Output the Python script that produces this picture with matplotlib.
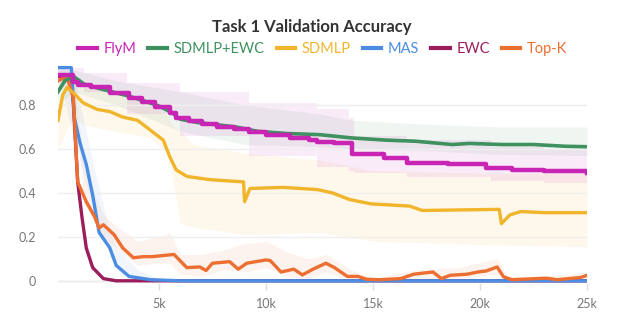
import matplotlib.pyplot as plt
from matplotlib.ticker import FuncFormatter

plt.rcParams['font.family'] = ['Lato', 'DejaVu Sans']

# steps in thousands
flym_x = [0.28, 1.0, 1.2, 1.8, 2.7, 3.6, 4.2, 4.8, 5.5, 5.8, 6.4, 7.0, 7.7, 8.5, 9.2, 10.0, 11.1,
          12.0, 12.4, 13.2, 14.0, 15.5, 16.6, 18.5, 20.3, 21.5, 23.0, 25.0]
flym_y = [0.935, 0.905, 0.89, 0.88, 0.855, 0.83, 0.815, 0.79, 0.765, 0.74, 0.725, 0.715, 0.70, 0.69,
          0.675, 0.665, 0.65, 0.64, 0.63, 0.625, 0.575, 0.56, 0.535, 0.53, 0.515, 0.505, 0.50, 0.49]

ewc_sd_x = [0.28, 0.6, 1.0, 1.5, 2.2, 3.0, 3.6, 4.4, 5.0, 5.6, 6.0, 6.8, 7.7, 8.6, 9.6, 11.0, 12.5,
            14.0, 15.6, 17.0, 18.7, 19.5, 21.0, 22.5, 24.0, 25.0]
ewc_sd_y = [0.86, 0.91, 0.93, 0.895, 0.875, 0.855, 0.84, 0.815, 0.795, 0.765, 0.735, 0.72, 0.71, 0.70,
            0.68, 0.67, 0.665, 0.65, 0.64, 0.635, 0.62, 0.625, 0.62, 0.62, 0.612, 0.61]

sdmlp_x = [0.28, 0.5, 0.7, 1.0, 1.45, 2.1, 2.7, 3.3, 4.0, 4.6, 5.2, 5.5, 5.8, 6.3, 7.4, 8.95, 9.0,
           9.25, 10.8, 12.4, 13.1, 13.9, 14.9, 16.7, 17.3, 20.9, 21.0, 21.4, 21.9, 23.0, 25.0]
sdmlp_y = [0.73, 0.845, 0.88, 0.855, 0.81, 0.78, 0.77, 0.745, 0.73, 0.685, 0.64, 0.565, 0.505, 0.475,
           0.46, 0.45, 0.36, 0.42, 0.425, 0.415, 0.40, 0.37, 0.35, 0.34, 0.32, 0.325, 0.26, 0.30,
           0.315, 0.31, 0.31]

mas_x = [0.28, 0.9, 1.05, 1.3, 1.6, 1.9, 2.2, 2.7, 3.0, 3.6, 4.6, 6.0, 25.0]
mas_y = [0.97, 0.97, 0.74, 0.63, 0.53, 0.39, 0.22, 0.15, 0.07, 0.02, 0.005, 0.0, 0.0]

ewc_x = [0.28, 0.9, 1.0, 1.2, 1.4, 1.6, 1.9, 2.4, 3.0, 25.0]
ewc_y = [0.93, 0.93, 0.80, 0.45, 0.29, 0.15, 0.06, 0.01, 0.0, 0.0]

topk_x = [0.28, 0.7, 1.0, 1.2, 1.6, 2.0, 2.2, 2.4, 2.9, 3.3, 3.8, 4.3, 4.7, 5.2, 5.7, 6.3, 6.9, 7.2,
          7.5, 8.3, 8.7, 9.1, 10.0, 10.2, 10.7, 11.3, 11.7, 12.2, 12.8, 13.2, 13.8, 14.3, 14.7, 15.3,
          16.3, 16.9, 17.8, 18.2, 18.6, 19.4, 19.9, 20.3, 20.8, 21.1, 21.5, 23.1, 23.6, 24.7, 25.0]
topk_y = [0.91, 0.93, 0.83, 0.45, 0.36, 0.29, 0.24, 0.255, 0.21, 0.15, 0.105, 0.11, 0.11, 0.115, 0.12,
          0.06, 0.063, 0.047, 0.08, 0.087, 0.053, 0.08, 0.095, 0.092, 0.04, 0.053, 0.027, 0.053, 0.08,
          0.06, 0.02, 0.02, 0.007, 0.005, 0.01, 0.03, 0.04, 0.01, 0.025, 0.03, 0.04, 0.045, 0.063,
          0.018, 0.005, 0.012, 0.005, 0.015, 0.025]

# min/max bands
flym_bx = [0.28, 1.5, 3.5, 6.0, 9.2, 12.4, 13.9, 14.1, 16.6, 20.5, 23.0, 25.0]
flym_hi = [0.97, 0.945, 0.90, 0.86, 0.81, 0.78, 0.74, 0.66, 0.64, 0.61, 0.60, 0.60]
flym_lo = [0.90, 0.86, 0.76, 0.66, 0.57, 0.52, 0.50, 0.49, 0.47, 0.455, 0.445, 0.445]

ewc_sd_bx = [0.28, 1.0, 3.0, 6.0, 9.0, 12.5, 14.0, 18.0, 21.0, 25.0]
ewc_sd_hi = [0.96, 0.96, 0.91, 0.86, 0.80, 0.76, 0.73, 0.71, 0.70, 0.70]
ewc_sd_lo = [0.80, 0.86, 0.80, 0.68, 0.62, 0.61, 0.60, 0.59, 0.575, 0.57]

sdmlp_bx = [0.28, 1.0, 1.45, 3.0, 4.6, 5.4, 5.7, 6.0, 6.6, 9.0, 12.5, 15.0, 20.0, 25.0]
sdmlp_hi = [0.80, 0.90, 0.88, 0.85, 0.80, 0.75, 0.70, 0.68, 0.62, 0.58, 0.55, 0.50, 0.49, 0.49]
sdmlp_lo = [0.60, 0.75, 0.71, 0.68, 0.65, 0.58, 0.43, 0.26, 0.245, 0.21, 0.22, 0.18, 0.165, 0.155]

mas_bx = [0.28, 1.0, 1.5, 2.0, 2.5, 3.0, 4.0, 5.0, 25.0]
mas_hi = [0.98, 0.95, 0.72, 0.50, 0.30, 0.15, 0.05, 0.01, 0.005]
mas_lo = [0.95, 0.65, 0.48, 0.30, 0.17, 0.06, 0.0, 0.0, 0.0]

topk_bx = [0.28, 1.0, 1.5, 2.4, 3.0, 4.0, 5.0, 5.5, 6.0, 7.0, 8.0, 9.0, 10.0, 11.0, 12.0, 12.8,
           14.0, 15.0, 17.0, 19.0, 20.8, 21.3, 23.0, 25.0]
topk_hi = [0.93, 0.95, 0.50, 0.30, 0.25, 0.18, 0.20, 0.22, 0.12, 0.12, 0.14, 0.17, 0.18, 0.13, 0.10,
           0.12, 0.05, 0.01, 0.05, 0.06, 0.10, 0.02, 0.02, 0.04]
topk_lo = [0.88, 0.90, 0.35, 0.20, 0.15, 0.07, 0.08, 0.08, 0.03, 0.02, 0.05, 0.04, 0.06, 0.02, 0.01,
           0.04, 0.0, 0.0, 0.01, 0.01, 0.03, 0.0, 0.0, 0.01]

c_flym = '#c925b4'
c_ewc_sd = '#3f9160'
c_sdmlp = '#f1b52c'
c_mas = '#4a8de2'
c_ewc = '#9b1d5c'
c_topk = '#ec6e31'

fig = plt.figure(figsize=(6.23, 3.27), dpi=100)
ax = fig.add_axes([58 / 623, 1 - 283 / 327, (587 - 58) / 623, (283 - 61) / 327])

k = lambda xs: [v * 1000 for v in xs]

ax.fill_between(k(sdmlp_bx), sdmlp_lo, sdmlp_hi, color=c_sdmlp, alpha=0.09, lw=0)
ax.fill_between(k(ewc_sd_bx), ewc_sd_lo, ewc_sd_hi, color=c_ewc_sd, alpha=0.08, lw=0)
ax.fill_between(k(flym_bx), flym_lo, flym_hi, color=c_flym, alpha=0.09, lw=0, step='post')
ax.fill_between(k(mas_bx), mas_lo, mas_hi, color=c_mas, alpha=0.08, lw=0)
ax.fill_between(k(topk_bx), topk_lo, topk_hi, color=c_topk, alpha=0.08, lw=0)

ax.plot(k(ewc_x), ewc_y, color=c_ewc, lw=2.4, label='EWC', zorder=3)
ax.plot(k(mas_x), mas_y, color=c_mas, lw=2.4, label='MAS', zorder=3)
ax.plot(k(topk_x), topk_y, color=c_topk, lw=2.4, label='Top-K', zorder=4)
ax.plot(k(sdmlp_x), sdmlp_y, color=c_sdmlp, lw=2.4, label='SDMLP', zorder=4)
ax.plot(k(ewc_sd_x), ewc_sd_y, color=c_ewc_sd, lw=2.6, label='SDMLP+EWC', zorder=5)
ax.plot(k(flym_x), flym_y, color=c_flym, lw=3.2, label='FlyM', zorder=6, drawstyle='steps-post')

ax.set_xlim(280, 25000)
ax.set_ylim(-0.01, 1.0)
ax.set_yticks([0, 0.2, 0.4, 0.6, 0.8])
ax.set_yticklabels(['0', '0.2', '0.4', '0.6', '0.8'])
ax.set_xticks([5000, 10000, 15000, 20000, 25000])
ax.xaxis.set_major_formatter(FuncFormatter(lambda v, p: '%dk' % (v / 1000)))
ax.grid(axis='y', color='#eeeeee', lw=1)
ax.axhline(0, color='#d5d5d5', lw=1, zorder=1)
for s in ax.spines.values():
    s.set_visible(False)
ax.tick_params(axis='y', length=0, pad=16, labelsize=9, labelcolor='#777777')
ax.tick_params(axis='x', length=5, width=1, color='#dddddd', pad=6, labelsize=9, labelcolor='#777777')

fig.text(0.5, 1 - 27 / 327, 'Task 1 Validation Accuracy', ha='center', va='center',
         fontsize=12, fontweight='bold', color='#333333')

handles, labels = ax.get_legend_handles_labels()
order = ['FlyM', 'SDMLP+EWC', 'SDMLP', 'MAS', 'EWC', 'Top-K']
hmap = dict(zip(labels, handles))
leg = fig.legend([hmap[o] for o in order], order, ncol=6, loc='center',
                 bbox_to_anchor=(0.518, 1 - 49 / 327), frameon=False, fontsize=10.5,
                 handlelength=1.25, handletextpad=0.45, columnspacing=0.85, labelcolor='linecolor')
for h in leg.get_lines():
    h.set_linewidth(3)

fig.savefig('out.png', dpi=100)
